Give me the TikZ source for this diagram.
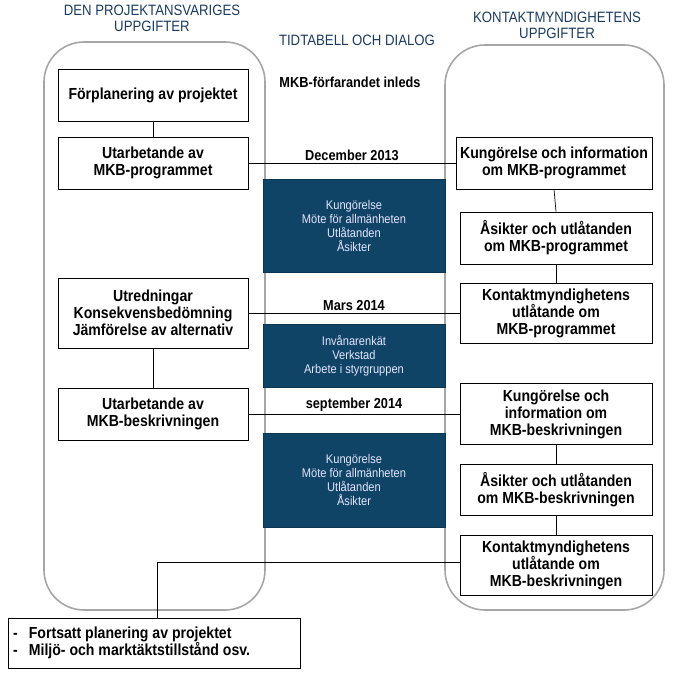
\documentclass[tikz,border=0pt]{standalone}
\usepackage{fontspec}
\setmainfont{Liberation Sans}[FakeStretch=0.88]
\begin{document}
\begin{tikzpicture}[x=1pt,y=-1pt,
  panel/.style={draw=gray!70,line width=1.6pt,rounded corners=40pt},
  wbox/.style={draw=black,line width=0.8pt,fill=white,align=center,font=\fontsize{16}{17}\selectfont\bfseries,inner sep=0pt},
  dbox/.style={draw=dkb!80!black,line width=0.6pt,fill=dkb,align=center,text=white!90!blue,font=\fontsize{12.6}{14}\selectfont,inner sep=0pt},
  ttl/.style={text=ttlc,align=center,font=\fontsize{15}{16}\selectfont},
  lbl/.style={font=\fontsize{14.5}{16}\selectfont\bfseries},
  conn/.style={draw=black,line width=0.7pt}]
\definecolor{dkb}{HTML}{0F4466}
\definecolor{ttlc}{HTML}{1B3A60}
\useasboundingbox (0,0) rectangle (684,674);
% panels
\draw[panel] (44,42) rectangle (265,610);
\draw[panel] (445,45) rectangle (664,610);
% titles
\node[ttl] (tl) at (152,18) {DEN PROJEKTANSVARIGES\\UPPGIFTER};
\node[ttl] (tm) at (357,40) {TIDTABELL OCH DIALOG};
\node[ttl] (tr) at (557,25) {KONTAKTMYNDIGHETENS\\UPPGIFTER};
\node[lbl] (start) at (350,82) {MKB-förfarandet inleds};
% dark boxes
\node[dbox,minimum width=182pt,minimum height=93pt] (d1) at (354,226) {Kungörelse\\Möte för allmänheten\\Utlåtanden\\Åsikter};
\node[dbox,minimum width=182pt,minimum height=63pt] (d2) at (354,356) {Invånarenkät\\Verkstad\\Arbete i styrgruppen};
\node[dbox,minimum width=182pt,minimum height=94pt] (d3) at (354,480) {Kungörelse\\Möte för allmänheten\\Utlåtanden\\Åsikter};
% left boxes
\node[wbox,minimum width=190pt,minimum height=52pt] (l1) at (153,95) {Förplanering av projektet};
\node[wbox,minimum width=190pt,minimum height=52pt] (l2) at (153,163) {Utarbetande av\\MKB-programmet};
\node[wbox,minimum width=190pt,minimum height=70pt] (l3) at (153,313) {Utredningar\\Konsekvensbedömning\\Jämförelse av alternativ};
\node[wbox,minimum width=190pt,minimum height=52pt] (l4) at (153,414) {Utarbetande av\\MKB-beskrivningen};
% right boxes
\node[wbox,minimum width=196pt,minimum height=52pt] (r1) at (554,163) {Kungörelse och information\\om MKB-programmet};
\node[wbox,minimum width=192pt,minimum height=52pt] (r2) at (556,238) {Åsikter och utlåtanden\\om MKB-programmet};
\node[wbox,minimum width=192pt,minimum height=60pt] (r3) at (556,313) {Kontaktmyndighetens\\utlåtande om\\MKB-programmet};
\node[wbox,minimum width=192pt,minimum height=61pt] (r4) at (556,414) {Kungörelse och\\information om\\MKB-beskrivningen};
\node[wbox,minimum width=192pt,minimum height=51pt] (r5) at (556,490) {Åsikter och utlåtanden\\om MKB-beskrivningen};
\node[wbox,minimum width=192pt,minimum height=60pt] (r6) at (556,565) {Kontaktmyndighetens\\utlåtande om\\MKB-beskrivningen};
% final box
\node[wbox,minimum width=292pt,minimum height=50pt,anchor=north west] (fin) at (8,618) {};
\node[anchor=west,font=\fontsize{16}{17}\selectfont\bfseries,align=left,inner sep=0pt] (fintxt) at (13,643) {-\hspace{11pt}Fortsatt planering av projektet\\-\hspace{11pt}Miljö- och marktäktstillstånd osv.};
% connectors
\draw[conn] (l1.south) -- (l2.north);
\draw[conn] (l3.south) -- (l4.north);
\draw[conn] (r1.south) -- (r2.north);
\draw[conn] (r2.south) -- (r3.north);
\draw[conn] (r4.south) -- (r5.north);
\draw[conn] (r5.south) -- (r6.north);
\draw[conn] (l2.east) -- node[lbl,above=-1pt] (lb1) {December 2013} (l2.east -| r1.west);
\draw[conn] (l3.east) -- node[lbl,above=-1pt] (lb2) {Mars 2014} (l3.east -| r3.west);
\draw[conn] (l4.east) -- node[lbl,above=-1pt] (lb3) {september 2014} (l4.east -| r4.west);
\coordinate (bend) at (157,562);
\draw[conn] (r6.west |- bend) -- (bend) -- (bend |- fin.north);
\end{tikzpicture}
\end{document}
